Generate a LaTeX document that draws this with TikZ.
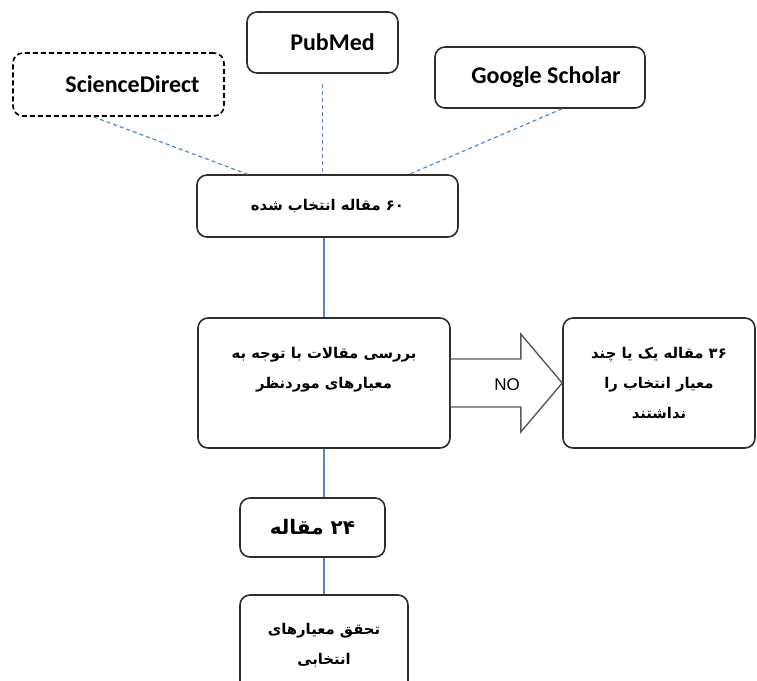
\documentclass[tikz,border=0pt]{standalone}
\usepackage{fontspec}
\setmainfont{Carlito}
\newfontfamily\farsi[Script=Arabic]{DejaVu Sans}
\newfontfamily\arial{Liberation Sans}
\TeXXeTstate=1
\usetikzlibrary{calc}
\definecolor{linkblue}{RGB}{84,136,200}
\definecolor{boxgray}{RGB}{45,45,45}
\definecolor{arrowgray}{RGB}{90,90,90}
\begin{document}
\begin{tikzpicture}[x=0.5pt,y=-0.5pt,
  box/.style={draw=boxgray,line width=0.8pt,rounded corners=5pt,fill=white,align=center,inner sep=0pt},
  srcbox/.style={box,font=\bfseries\fontsize{12}{14}\selectfont},
  fabox/.style={box,font=\farsi\bfseries\fontsize{7.4}{15}\selectfont},
  link/.style={linkblue,line width=1pt},
  dlink/.style={link,line width=0.6pt,dash pattern=on 2pt off 1.5pt}]
\useasboundingbox (0,0) rectangle (757,681);
% the three sources
\node[srcbox,draw=black,dash pattern=on 2.5pt off 1.5pt,minimum width=105.5pt,minimum height=31.5pt] (sd) at (118.5,84.5) {\hspace{14pt}ScienceDirect};
\node[srcbox,minimum width=75.5pt,minimum height=30.5pt] (pm) at (322.5,42.5) {\hspace{10pt}PubMed};
\node[srcbox,minimum width=105pt,minimum height=30.5pt] (gs) at (540,77.5) {\hspace{6pt}Google Scholar};
% the selected articles
\node[fabox,minimum width=130.5pt,minimum height=31pt] (sel) at (327.5,206) {\beginR ۶۰ مقاله انتخاب شده\endR};
\draw[dlink] ($(sd.south)+(-25,0)$) -- ($(sel.north)+(-80,0)$);
\draw[dlink] ($(pm.south)+(0,10)$) -- (pm.south |- sel.north);
\draw[dlink] ($(gs.south)+(22,0)$) -- ($(sel.north)+(82,0)$);
% the review and the rejected ones
\node[fabox,minimum width=126pt,minimum height=65pt] (rev) at (324,383) {\beginR بررسی مقالات با توجه به\endR\\\beginR معیارهای  موردنظر\endR\\ };
\node[fabox,minimum width=96pt,minimum height=65pt] (exc) at (659,383) {\beginR ۳۶ مقاله یک یا چند\endR\\\beginR معیار انتخاب را\endR\\\beginR نداشتند\endR};
\draw[arrowgray,line width=0.7pt,fill=white] ($(rev.east)+(0,-24)$) -- ++(70,0) -- ++(0,-25) -- (exc.west) -- ($(rev.east)+(70,49)$) -- ++(0,-25) -- ($(rev.east)+(0,24)$);
\node[font=\arial\fontsize{8.5}{10}\selectfont] (no) at (507,385) {NO};
\draw[link] (rev.north |- sel.south) -- (rev.north);
% the remaining articles
\node[fabox,font=\farsi\bfseries\fontsize{10}{14}\selectfont,minimum width=72.5pt,minimum height=29.5pt] (n24) at (312.5,527.5) {\beginR ۲۴ مقاله\endR};
\node[fabox,minimum width=84pt,minimum height=50pt] (fin) at (324,645) {\beginR تحقق معیارهای\endR\\\beginR انتخابی\endR};
\draw[link] (rev.south) -- (rev.south |- n24.north);
\draw[link] (fin.north |- n24.south) -- (fin.north);
\end{tikzpicture}
\end{document}
